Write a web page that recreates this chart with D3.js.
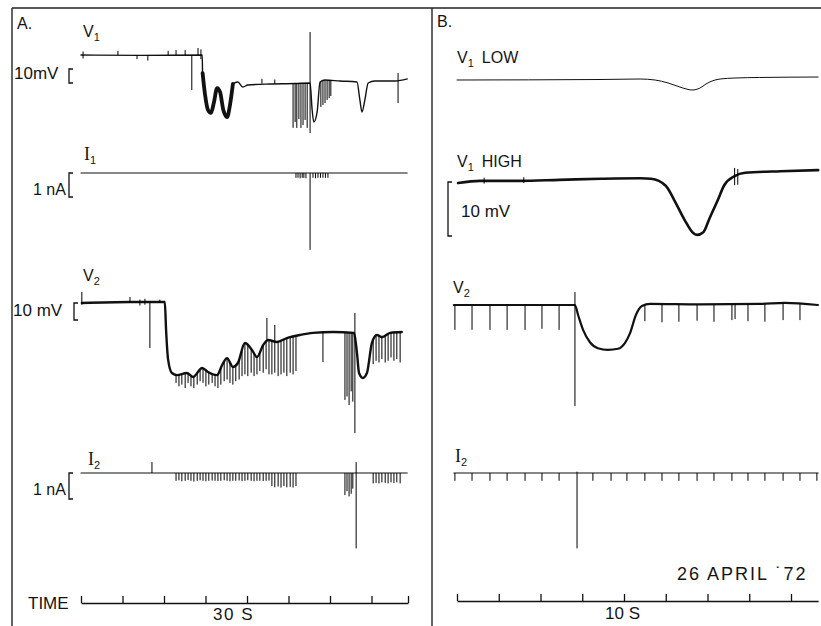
<!DOCTYPE html>
<html lang="en">
<head>
<meta charset="UTF-8" />
<title>26 April '72</title>
<style>
  body { margin: 0; background: #fff; }
  svg { display: block; background: #fff; }
  text { font-family: "Liberation Sans", "DejaVu Sans", sans-serif; fill: #141414; font-size: 16px; }
  .serif { font-family: "Liberation Serif", serif; }
  .trace { fill: none; stroke: #111; stroke-linejoin: round; stroke-linecap: round; }
  .mark { stroke: #000; stroke-width: 1; }
  .bar { fill: none; stroke: #111; stroke-width: 1.3; }
  .frame line { stroke: #222; stroke-width: 1.4; }
  .time path, .time line { stroke: #111; stroke-width: 1.3; }
</style>
</head>
<body>
<script src="https://cdnjs.cloudflare.com/ajax/libs/d3/7.8.5/d3.min.js"></script>
<script>
// ---------- panel A (time in s, mV / nA) ----------
const timeTicksA = [0, 10, 20, 30, 40, 50, 60, 70, 78.8];

const v1A = [
  [0, 0], [14.2, -0.3], [29.2, 0], [29.3, -12.9], [29.9, -28.6], [30.6, -39.3], [31.3, -41.4],
  [32.0, -34.3], [32.8, -23.6], [33.5, -26.4], [34.3, -39.3], [35.2, -44.3], [35.9, -35.7],
  [36.6, -20.7], [37.8, -19.3], [39.0, -22.9], [40.2, -21.4], [45.5, -20.7], [51.6, -20.4],
  [55.2, -20], [55.7, -39.3], [56.1, -47.9], [56.9, -40.7], [57.6, -19.3], [58.8, -17.9],
  [62.4, -18.6], [66.5, -19.3], [67.2, -32.1], [67.7, -40.7], [68.4, -32.1], [69.2, -20],
  [70.8, -18.6], [75.7, -18.6], [78.6, -17.1]
];
// [t, top, bottom]
const v1AMarks = [
  [0.5, 2.5, -2.5], [8.9, 3, 0], [13.5, 0, -3], [16.1, 0, -4], [21.0, 3, 0], [22.9, 3.5, 0],
  [25.1, 3.5, 0], [26.7, 0, -25], [28.2, 5, 0], [28.9, 4, -3], [43.6, -17, -20.5], [46.7, -17.5, -20.7],
  [51.1, -20, -52], [51.6, -20, -47.9], [52.0, -20, -52.1], [52.5, -20, -45.7], [53.0, -20, -52.1],
  [53.5, -20, -50], [54.0, -20, -46.4], [54.5, -20, -52.1], [55.2, 16.4, -55.7],
  [57.8, -19, -37.1], [58.3, -18.5, -35.7], [58.8, -18, -34.3], [59.3, -18, -32.1], [59.8, -18, -30.7],
  [60.2, -18, -29.3], [76.4, -12.9, -34.3]
];

const i1A = [[0, 0], [78.6, 0]];
const i1AMarks = [
  [55.2, 0, -3.2], [51.8, 0, -0.2], [52.3, 0, -0.2], [52.8, 0, -0.22], [53.3, 0, -0.2], [53.7, 0, -0.2],
  [54.2, 0, -0.22], [55.9, 0, -0.2], [56.5, 0, -0.22], [57.1, 0, -0.2], [57.7, 0, -0.2], [58.3, 0, -0.2],
  [58.9, 0, -0.2], [59.5, 0, -0.2]
];

const v2A = [
  [0.2, 0], [11.8, 0.6], [20.2, 0.6], [20.5, -15.9], [21.0, -33.5], [21.9, -41.2], [23.1, -42.4],
  [25.5, -41.2], [27.0, -43.5], [29.2, -38.2], [30.6, -40.6], [32.8, -42.4], [34.0, -36.5],
  [35.2, -32.4], [36.6, -37.6], [37.8, -35.3], [39.5, -23.5], [41.2, -27.6], [42.4, -31.8],
  [43.9, -24.7], [45.1, -21.8], [47.2, -22.9], [49.6, -20.6], [52.8, -18.8], [55.9, -17.6],
  [60.7, -17.1], [65.8, -17.6], [66.5, -29.4], [67.0, -41.2], [67.9, -44.1], [68.9, -41.2],
  [70.1, -23.5], [71.3, -18.8], [72.5, -20], [74.5, -17.6], [77.3, -17.1]
];
const v2AMarks = [
  [0.2, 6.5, -1], [11.8, 3.5, 0], [14.2, 2, -1.5], [15.4, 2.5, -1], [16.6, 0.5, -26.5], [19.0, 2, 0],
  [44.8, -8.8, -22], [46.7, -12.9, -23], [58.3, -17, -34.7], [66.0, -5.9, -76.5]
];

// current pulses seen on V2 and I2 during the depolarisation
const pulseTimesA = [
  22.9, 23.6, 24.3, 25.1, 25.8, 26.5, 27.2, 28.0, 28.7, 29.4, 30.1, 30.8, 31.6, 32.3, 33.0, 33.7,
  34.5, 35.2, 35.9, 36.6, 37.3, 38.1, 38.8, 39.5, 40.2, 41.0, 41.7, 42.4, 43.1, 43.9, 44.6, 45.3,
  46.0, 46.7, 47.5, 48.2, 48.9, 49.6, 50.4, 51.1, 51.8
];
const v2APulseLo = [
  -47, -49, -48, -50, -47, -49, -50, -48, -46, -47, -49, -48, -47, -49, -50, -48,
  -46, -45, -47, -48, -46, -45, -43, -42, -43, -41, -43, -42, -40, -41, -39, -42,
  -42, -41, -43, -42, -41, -43, -41, -42, -40
];
const i2APulseLo = [
  -0.3, -0.28, -0.32, -0.3, -0.27, -0.3, -0.33, -0.3, -0.28, -0.3, -0.32, -0.3, -0.29, -0.3, -0.31, -0.3,
  -0.28, -0.3, -0.32, -0.3, -0.3, -0.29, -0.31, -0.3, -0.28, -0.3, -0.32, -0.3, -0.3, -0.31, -0.3, -0.29,
  -0.5, -0.55, -0.52, -0.56, -0.5, -0.55, -0.53, -0.56, -0.5
];
const lateTimesA = [63.6, 64.1, 64.6, 65.1, 65.5, 70.4, 71.1, 71.8, 72.5, 73.3, 74.0, 74.7, 75.4, 76.1, 76.9];
const v2ALateLo = [-57, -55, -60, -52, -58, -36, -34, -35, -33, -35, -34, -32, -34, -33, -35];
const i2ALateLo = [-0.85, -0.7, -0.9, -0.8, -0.6, -0.4, -0.38, -0.4, -0.36, -0.38, -0.4, -0.36, -0.38, -0.36, -0.4];

const i2A = [[0, 0], [78.6, 0]];
const i2AMarks = [[17.1, 0.42, 0], [66.3, 0.42, -2.9]];

// ---------- panel B ----------
const timeTicksB = [0, 2, 4, 6, 8, 10, 12, 14, 16];
const timeEndB = 17.3;

const v1LowB = [
  [0, 0], [6.85, 0.45], [8.77, 0.9], [9.49, 0], [10.11, -2.7], [10.68, -6.4], [11.07, -8.6],
  [11.26, -9.1], [11.64, -7.3], [11.93, -3.6], [12.22, -0.9], [12.6, 0.9], [13.32, 1.8],
  [14.5, 2.3], [17.3, 2.7]
];

const v1HighB = [
  [0.05, -0.2], [1.1, 0.2], [3.0, 0.2], [4.9, 0.4], [6.9, 0.6], [8.8, 0.7], [9.3, 0.6],
  [10.0, -0.7], [10.4, -3.3], [10.9, -7.0], [11.3, -9.4], [11.5, -9.8], [11.8, -9.3],
  [12.1, -6.7], [12.5, -3.3], [12.8, -0.6], [13.3, 1.1], [13.8, 1.7], [15.5, 2.0], [17.3, 2.2]
];
const v1HighBMarks = [[1.3, 0.8, -0.3], [3.2, 0.9, -0.2], [13.3, 2.6, -0.6], [13.45, 2.4, -0.5]];

const v2B = [
  [-0.15, 0], [5.65, 0], [5.8, -1.85], [6.04, -4.6], [6.37, -6.9], [6.75, -8.0], [7.23, -8.3],
  [7.71, -8.1], [8.05, -7.0], [8.29, -5.2], [8.57, -1.85], [8.86, -0.2], [9.25, 0.2],
  [11.64, 0.1], [14.51, 0.2], [15.71, 0.4], [17.29, 0]
];
const v2BPulseTimes = [-0.1, 0.72, 1.58, 2.4, 3.26, 4.07, 4.89, 9.0, 9.82, 10.63, 11.5, 12.31, 13.17, 13.32, 13.94, 14.75, 15.62, 16.43];
const v2BPulseLo = [-4.6, -4.6, -4.6, -4.6, -4.6, -4.4, -4.6, -3.0, -3.2, -3.1, -2.9, -3.1, -2.8, -2.6, -3.0, -3.1, -2.8, -2.8];
const v2BMarks = [[5.65, 2.4, -18.7]];

const i2B = [[-0.15, 0], [17.3, 0]];
const i2BPulseTimes = [-0.1, 0.72, 1.58, 2.4, 3.26, 4.07, 4.89, 6.51, 7.38, 8.14, 9.0, 9.82, 10.63, 11.5, 12.31, 13.17, 13.94, 14.75, 15.62, 16.43, 17.24];
const i2BPulseLo = [-0.3, -0.3, -0.3, -0.3, -0.3, -0.3, -0.3, -0.3, -0.3, -0.3, -0.3, -0.3, -0.3, -0.3, -0.3, -0.3, -0.3, -0.3, -0.3, -0.3, -0.3];
const i2BMarks = [[5.75, 0.05, -2.9]];

// ---------- drawing ----------
const width = 821, height = 626;
const svg = d3.select("body").append("svg").attr("width", width).attr("height", height);

const xA = d3.scaleLinear().domain([0, 80]).range([81, 413]);
const xB = d3.scaleLinear().domain([0, 16]).range([457, 791]);

const yV1A = d3.scaleLinear().domain([0, -10]).range([55, 69]);
const yI1A = d3.scaleLinear().domain([0, -1]).range([173, 197]);
const yV2A = d3.scaleLinear().domain([0, -10]).range([303, 320]);
const yI2A = d3.scaleLinear().domain([0, -1]).range([473, 499]);
const yV1LowB = d3.scaleLinear().domain([0, -10]).range([80, 91]);
const yV1HighB = d3.scaleLinear().domain([0, -10]).range([182, 236]);
const yV2B = d3.scaleLinear().domain([0, -10]).range([305, 359]);
const yI2B = d3.scaleLinear().domain([0, -1]).range([473, 499]);

// frame
const frame = svg.append("g").attr("class", "frame");
frame.append("line").attr("x1", 12).attr("y1", 8).attr("x2", 821).attr("y2", 8);
frame.append("line").attr("x1", 12).attr("y1", 8).attr("x2", 12).attr("y2", 626);
frame.append("line").attr("x1", 432).attr("y1", 8).attr("x2", 432).attr("y2", 626);

const bisect = d3.bisector(d => d[0]).left;
function valueAt(pts, t) {
  const i = bisect(pts, t);
  if (i <= 0) return pts[0][1];
  if (i >= pts.length) return pts[pts.length - 1][1];
  const a = pts[i - 1], b = pts[i];
  return a[1] + (b[1] - a[1]) * (t - a[0]) / (b[0] - a[0]);
}

function trace(x, y, pts, w) {
  const line = d3.line().x(d => x(d[0])).y(d => y(d[1])).curve(d3.curveMonotoneX);
  svg.append("path").attr("class", "trace").attr("d", line(pts)).attr("stroke-width", w);
}

function marks(x, y, list) {
  svg.append("g").selectAll("line").data(list).enter().append("line")
    .attr("class", "mark")
    .attr("x1", d => x(d[0])).attr("x2", d => x(d[0]))
    .attr("y1", d => y(d[1])).attr("y2", d => y(d[2]));
}

// pulses hanging from the trace
function comb(x, y, pts, times, lows) {
  marks(x, y, times.map((t, i) => [t, valueAt(pts, t), lows[i]]));
}

function bracket(xp, y, hi, lo) {
  const y0 = y(hi), y1 = y(lo);
  svg.append("path").attr("class", "bar")
    .attr("d", `M${xp + 4},${y0}H${xp}V${y1}H${xp + 4}`);
}

function label(xp, yp, main, sub, rest, serifMain) {
  const t = svg.append("text").attr("x", xp).attr("y", yp);
  t.append("tspan").attr("class", serifMain ? "serif" : null)
    .style("font-size", serifMain ? "18px" : null).text(main);
  if (sub) t.append("tspan").attr("dy", 4).style("font-size", "11px").text(sub);
  if (rest) t.append("tspan").attr("dy", sub ? -4 : 0).attr("dx", 8).text(rest);
}

function text(xp, yp, s, size, spacing) {
  svg.append("text").attr("x", xp).attr("y", yp)
    .style("font-size", size || null)
    .style("letter-spacing", spacing || null)
    .text(s);
}

// panel A
text(17, 29, "A.");
label(83, 37, "V", "1");
trace(xA, yV1A, v1A, 1.4);
trace(xA, yV1A, v1A.filter(d => d[0] >= 29.3 && d[0] <= 36.6), 3.8);
marks(xA, yV1A, v1AMarks);
text(14, 79, "10mV", "17px");
bracket(69, yV1A, -10, -20);

label(84, 160, "I", "1", null, true);
trace(xA, yI1A, i1A, 1.1);
marks(xA, yI1A, i1AMarks);
text(33, 195, "1 nA", "16px");
bracket(69, yI1A, 0, -1);

label(83, 281, "V", "2");
trace(xA, yV2A, v2A, 2.4);
marks(xA, yV2A, v2AMarks);
comb(xA, yV2A, v2A, pulseTimesA, v2APulseLo);
comb(xA, yV2A, v2A, lateTimesA, v2ALateLo);
text(13, 316, "10 mV", "17px");
bracket(74, yV2A, 0, -10);

label(88, 465, "I", "2", null, true);
trace(xA, yI2A, i2A, 1.1);
marks(xA, yI2A, i2AMarks);
comb(xA, yI2A, i2A, pulseTimesA, i2APulseLo);
comb(xA, yI2A, i2A, lateTimesA, i2ALateLo);
text(33, 495, "1 nA", "16px");
bracket(69, yI2A, 0, -1);

// time scale A
const axisA = d3.scaleLinear().domain([0, timeTicksA[timeTicksA.length - 1]])
  .range([xA(0), xA(timeTicksA[timeTicksA.length - 1])]);
svg.append("g").attr("class", "time").attr("transform", "translate(0,603)")
  .call(d3.axisBottom(axisA).tickValues(timeTicksA).tickSizeInner(-7).tickSizeOuter(0).tickFormat(""))
  .call(g => g.select(".domain").attr("fill", "none"));
text(28, 609, "TIME", "17px");
text(213, 620, "30 S", "17px", "1.5px");

// panel B
text(437, 27, "B.");
label(457, 63, "V", "1", "LOW");
trace(xB, yV1LowB, v1LowB, 1);

label(457, 167, "V", "1", "HIGH");
trace(xB, yV1HighB, v1HighB, 2.6);
marks(xB, yV1HighB, v1HighBMarks);
bracket(448, yV1HighB, 0, -10);
text(461, 217, "10 mV", "17px");

label(453, 293, "V", "2");
trace(xB, yV2B, v2B, 2.2);
comb(xB, yV2B, v2B, v2BPulseTimes, v2BPulseLo);
marks(xB, yV2B, v2BMarks);

label(455, 462, "I", "2", null, true);
trace(xB, yI2B, i2B, 1.1);
comb(xB, yI2B, i2B, i2BPulseTimes, i2BPulseLo);
marks(xB, yI2B, i2BMarks);

text(677, 580, "26 APRIL \u02D972", "18px", "2px");

const axisB = d3.scaleLinear().domain([0, timeEndB]).range([xB(0), xB(timeEndB)]);
svg.append("g").attr("class", "time").attr("transform", "translate(0,601)")
  .call(d3.axisBottom(axisB).tickValues(timeTicksB).tickSizeInner(-7).tickSizeOuter(0).tickFormat(""))
  .call(g => g.select(".domain").attr("fill", "none"));
text(605, 619, "10 S", "17px");
</script>
</body>
</html>
